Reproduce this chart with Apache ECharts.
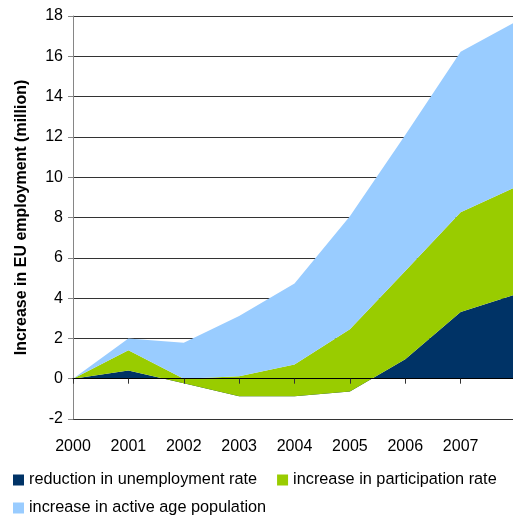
<!DOCTYPE html>
<html>
<head>
<meta charset="utf-8">
<script src="https://cdn.jsdelivr.net/npm/echarts@6/dist/echarts.min.js"></script>
<style>
  html, body { margin: 0; padding: 0; background: #fff; }
  #chart { width: 513px; height: 515px; }
</style>
</head>
<body>
<div id="chart"></div>
<script>
// Contributions to EU employment growth since 2000 (million), stacked
const years = ['2000', '2001', '2002', '2003', '2004', '2005', '2006', '2007', '2008'];
const unemploymentReduction = [0, 0.41, -0.23, -0.87, -0.87, -0.63, 0.96, 3.31, 4.19];
const participationIncrease = [0, 1.00, 0.23, 0.99, 1.58, 3.08, 4.39, 4.95, 5.33];
const activeAgePopulation   = [0, 0.58, 1.79, 2.99, 4.01, 5.61, 6.75, 7.96, 8.20];
const yTicks = { min: -2, max: 18, step: 2 };

const seriesNames = [
  'reduction in unemployment rate',
  'increase in participation rate',
  'increase in active age population'
];
const colors = ['#003366', '#99CC00', '#99CCFF'];
const FONT = 'Liberation Sans, Arial, sans-serif';

function areaSeries(name, data, color) {
  return {
    name: name,
    type: 'line',
    stack: 'total',
    stackStrategy: 'all',
    data: data,
    symbol: 'none',
    smooth: false,
    lineStyle: { width: 0, color: color },
    itemStyle: { color: color },
    areaStyle: { color: color, opacity: 1 },
    emphasis: { disabled: true }
  };
}

const legendCommon = {
  orient: 'horizontal',
  icon: 'rect',
  padding: 0,
  itemWidth: 11,
  itemHeight: 11,
  itemGap: 20,
  selectedMode: false,
  textStyle: { fontFamily: FONT, fontSize: 16.3, color: '#000' }
};

const chart = echarts.init(document.getElementById('chart'), null, { renderer: 'canvas' });
chart.setOption({
  animation: false,
  backgroundColor: '#fff',
  grid: { left: 73, top: 16, right: -3, bottom: 96, containLabel: false, outerBoundsMode: 'none' },
  legend: [
    Object.assign({}, legendCommon, { left: 13, top: 472, data: seriesNames.slice(0, 2) }),
    Object.assign({}, legendCommon, { left: 13, top: 500, data: seriesNames.slice(2) })
  ],
  xAxis: {
    type: 'category',
    data: years,
    boundaryGap: false,
    z: 5,
    axisLine: { onZero: true, lineStyle: { color: '#000', width: 1 } },
    axisTick: { show: true, interval: 0, length: 5, lineStyle: { color: '#333' } },
    axisLabel: {
      margin: 20,
      fontFamily: FONT,
      fontSize: 16,
      color: '#000',
      interval: 0,
      formatter: function (v) { return v === '2008' ? '' : v; }
    },
    splitLine: { show: false }
  },
  yAxis: {
    type: 'value',
    min: yTicks.min,
    max: yTicks.max,
    interval: yTicks.step,
    name: 'Increase in EU employment (million)',
    nameLocation: 'middle',
    nameGap: 43,
    nameTextStyle: { fontFamily: FONT, fontSize: 16, fontWeight: 'bold', color: '#000' },
    axisLine: { show: true, lineStyle: { color: '#868686' } },
    axisTick: { show: true, length: 5, lineStyle: { color: '#868686' } },
    axisLabel: { margin: 10, fontFamily: FONT, fontSize: 16, color: '#000' },
    splitLine: { show: true, lineStyle: { color: '#333', width: 1 } }
  },
  series: [
    areaSeries(seriesNames[0], unemploymentReduction, colors[0]),
    areaSeries(seriesNames[1], participationIncrease, colors[1]),
    areaSeries(seriesNames[2], activeAgePopulation, colors[2])
  ]
});
</script>
</body>
</html>
